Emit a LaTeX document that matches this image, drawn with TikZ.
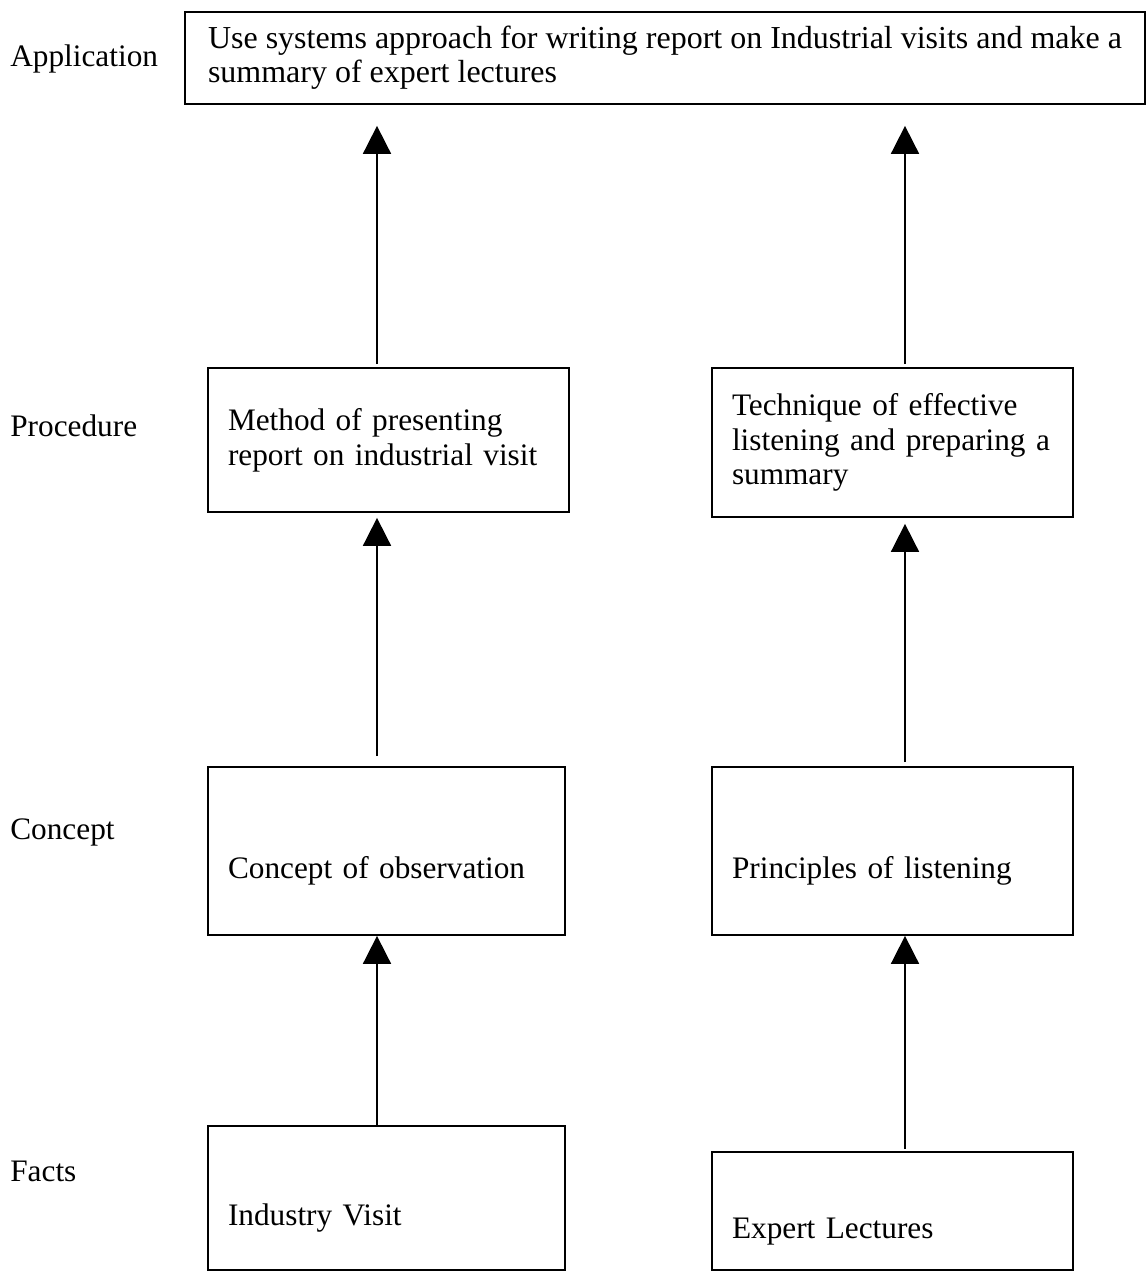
\documentclass[tikz,border=0pt]{standalone}
\usepackage{fontspec}
\setmainfont{Liberation Serif}
\usetikzlibrary{arrows.meta}
\begin{document}
\begin{tikzpicture}[
    box/.style={draw,line width=1pt,rectangle,inner xsep=0.4cm,align=left,font=\fontsize{17.8}{19.8}\selectfont},
    lvl/.style={anchor=base west,inner sep=0pt,font=\fontsize{17.8}{19.8}\selectfont},
    up/.style={-{Triangle[length=0.56cm,width=0.56cm]},line width=1pt}
]
\useasboundingbox (0,0) rectangle (22.96,-25.46);

\node[lvl] (lab_app) at (0.2,-1.34) {Application};
\node[lvl] (lab_proc) at (0.2,-8.72) {Procedure};
\node[lvl] (lab_con) at (0.2,-16.78) {Concept};
\node[lvl] (lab_fact) at (0.2,-23.62) {Facts};

\node[box,minimum width=19.2cm,minimum height=1.84cm,font=\fontsize{18.2}{19.4}\selectfont] (app) at (13.3,-1.16)
    {Use systems approach for writing report on Industrial visits and make a\\summary of expert lectures};
\node[box,text width=6.42cm,minimum height=2.88cm] (procL) at (7.77,-8.8)
    {Method of presenting\\report on industrial visit};
\node[box,text width=6.42cm,minimum height=2.98cm] (procR) at (17.85,-8.85)
    {Technique of effective\\listening and preparing a\\summary};
\node[box,text width=6.34cm,minimum height=3.36cm,text height=1.08cm,text depth=0pt] (conL) at (7.73,-17.02)
    {Concept of observation};
\node[box,text width=6.42cm,minimum height=3.36cm,text height=1.08cm,text depth=0pt] (conR) at (17.85,-17.02)
    {Principles of listening};
\node[box,text width=6.34cm,minimum height=2.88cm,text height=1.1cm,text depth=0pt] (factL) at (7.73,-23.96)
    {Industry Visit};
\node[box,text width=6.42cm,minimum height=2.36cm,text height=1.08cm,text depth=0pt] (factR) at (17.85,-24.22)
    {Expert Lectures};

\coordinate (colL) at (7.54,0);
\coordinate (colR) at (18.1,0);

\draw[up] (factL.north -| colL) -- (conL.south -| colL);
\draw[up,shorten <=0.2cm,shorten >=0.1cm] (conL.north -| colL) -- (procL.south -| colL);
\draw[up,shorten <=0.06cm,shorten >=0.42cm] (procL.north -| colL) -- (app.south -| colL);

\draw[up,shorten <=0.04cm] (factR.north -| colR) -- (conR.south -| colR);
\draw[up,shorten <=0.08cm,shorten >=0.12cm] (conR.north -| colR) -- (procR.south -| colR);
\draw[up,shorten <=0.06cm,shorten >=0.42cm] (procR.north -| colR) -- (app.south -| colR);
\end{tikzpicture}
\end{document}
